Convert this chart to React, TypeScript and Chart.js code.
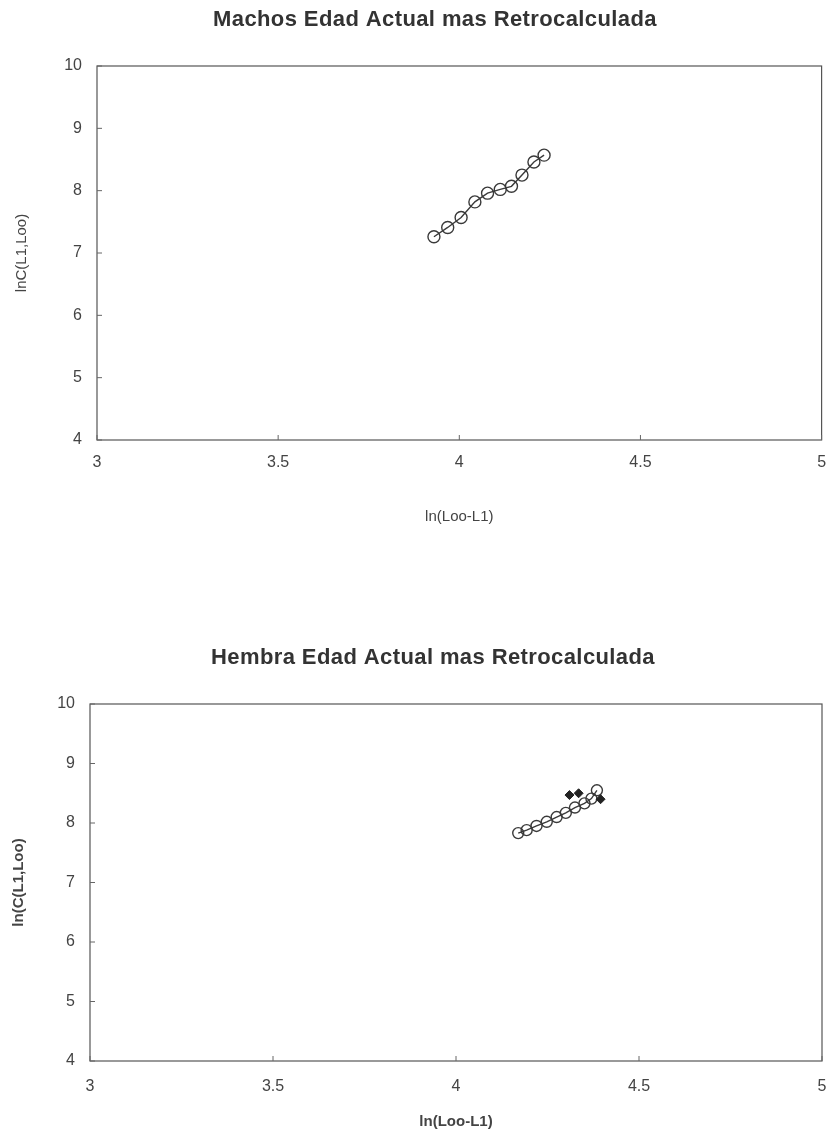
import React, { useEffect, useRef } from "react";
import { Chart, registerables } from "chart.js";

Chart.register(...registerables);

// ---- Data ----
const machosTitle = "Machos Edad Actual mas Retrocalculada";
const machosX = [3.93, 3.968, 4.005, 4.043, 4.078, 4.113, 4.144, 4.173, 4.206, 4.234];
const machosY = [7.26, 7.41, 7.57, 7.82, 7.96, 8.02, 8.07, 8.25, 8.46, 8.57];

const hembraTitle = "Hembra Edad Actual mas Retrocalculada";
const hembraX = [4.17, 4.193, 4.22, 4.248, 4.275, 4.3, 4.325, 4.351, 4.37, 4.385];
const hembraY = [7.83, 7.88, 7.95, 8.02, 8.1, 8.17, 8.26, 8.33, 8.41, 8.55];
const hembraObsX = [4.31, 4.335, 4.395];
const hembraObsY = [8.47, 8.5, 8.4];

const xTicks = [3, 3.5, 4, 4.5, 5];
const yTicks = [4, 5, 6, 7, 8, 9, 10];

const FONT = "'Liberation Sans', Arial, sans-serif";

const borderPlugin = {
  id: "plotBorder",
  afterDraw(chart: any) {
    const { ctx, chartArea } = chart;
    ctx.save();
    ctx.strokeStyle = "#555";
    ctx.lineWidth = 1.2;
    ctx.strokeRect(chartArea.left, chartArea.top, chartArea.right - chartArea.left, chartArea.bottom - chartArea.top);
    const xs = chart.scales.x;
    const ys = chart.scales.y;
    ctx.strokeStyle = "#666";
    ctx.lineWidth = 1;
    xTicks.forEach((v) => {
      const px = xs.getPixelForValue(v);
      ctx.beginPath();
      ctx.moveTo(px, chartArea.bottom);
      ctx.lineTo(px, chartArea.bottom - 5);
      ctx.stroke();
    });
    yTicks.forEach((v) => {
      const py = ys.getPixelForValue(v);
      ctx.beginPath();
      ctx.moveTo(chartArea.left, py);
      ctx.lineTo(chartArea.left + 5, py);
      ctx.stroke();
    });
    ctx.restore();
  },
};

// Title drawn at a fixed position (the original title is off-centre)
const titlePlugin = {
  id: "fixedTitle",
  afterDraw(chart: any, _args: any, opts: any) {
    const { ctx } = chart;
    ctx.save();
    ctx.font = `bold 22px ${FONT}`;
    try {
      (ctx as any).letterSpacing = "0.4px";
    } catch (e) {}
    ctx.fillStyle = "#333";
    ctx.textAlign = "center";
    ctx.textBaseline = "middle";
    ctx.fillText(opts.text, opts.x, opts.y);
    ctx.restore();
  },
};

type Cfg = {
  width: number;
  height: number;
  title: string;
  titleX: number;
  titleY: number;
  plotTop: number;
  yAxisWidth: number;
  xAxisHeight: number;
  padRight: number;
  xTitleBottom: number;
  xTickPad: number;
  yTitlePad: number;
  yTitle: string;
  xTitle: string;
  boldAxisTitles: boolean;
  datasets: any[];
};

function ScatterChart({ cfg, top }: { cfg: Cfg; top: number }) {
  const ref = useRef<HTMLCanvasElement | null>(null);
  useEffect(() => {
    if (!ref.current) return;
    const chart = new Chart(ref.current, {
      type: "scatter",
      data: { datasets: cfg.datasets },
      options: {
        responsive: false,
        animation: false,
        devicePixelRatio: 1,
        layout: { padding: { left: 0, right: cfg.padRight, top: cfg.plotTop, bottom: 0 } },
        plugins: {
          legend: { display: false },
          tooltip: { enabled: false },
          title: { display: false },
          fixedTitle: { text: cfg.title, x: cfg.titleX, y: cfg.titleY },
        },
        scales: {
          x: {
            type: "linear",
            min: 3,
            max: 5,
            afterBuildTicks: (s: any) => {
              s.ticks = xTicks.map((v) => ({ value: v }));
            },
            afterFit: (s: any) => {
              s.height = cfg.xAxisHeight;
              s.paddingLeft = 0;
              s.paddingRight = 0;
            },
            grid: { display: false },
            border: { display: false },
            ticks: {
              color: "#444",
              font: { family: FONT, size: 16 },
              padding: cfg.xTickPad,
              maxRotation: 0,
              callback: (v: any) => String(v),
            },
            title: {
              display: true,
              text: cfg.xTitle,
              color: "#444",
              font: { family: FONT, size: 15, weight: cfg.boldAxisTitles ? "bold" : "normal" },
              padding: { top: 0, bottom: cfg.xTitleBottom },
            },
          },
          y: {
            type: "linear",
            min: 4,
            max: 10,
            afterBuildTicks: (s: any) => {
              s.ticks = yTicks.map((v) => ({ value: v }));
            },
            afterFit: (s: any) => {
              s.width = cfg.yAxisWidth;
              s.paddingTop = 0;
              s.paddingBottom = 0;
            },
            grid: { display: false },
            border: { display: false },
            ticks: {
              color: "#444",
              font: { family: FONT, size: 16 },
              padding: 7,
            },
            title: {
              display: true,
              text: cfg.yTitle,
              color: "#444",
              font: { family: FONT, size: 15, weight: cfg.boldAxisTitles ? "bold" : "normal" },
              padding: { top: cfg.yTitlePad, bottom: 0 },
            },
          },
        },
      },
      plugins: [borderPlugin, titlePlugin],
    } as any);
    return () => chart.destroy();
  }, []);
  return (
    <div style={{ position: "absolute", left: 0, top, width: cfg.width, height: cfg.height }}>
      <canvas ref={ref} width={cfg.width} height={cfg.height} />
    </div>
  );
}

const circleStyle = {
  pointStyle: "circle",
  pointRadius: 6,
  pointBackgroundColor: "rgba(255,255,255,0)",
  pointBorderColor: "#3a3a3a",
  pointBorderWidth: 1.4,
  showLine: true,
  borderColor: "#3a3a3a",
  borderWidth: 1.4,
};

export default function App() {
  useEffect(() => {
    document.body.style.margin = "0";
    document.body.style.background = "#fff";
  }, []);

  const top: Cfg = {
    width: 829,
    height: 540,
    title: machosTitle,
    titleX: 435,
    titleY: 20,
    plotTop: 66,
    yAxisWidth: 97,
    xAxisHeight: 100,
    padRight: 4,
    xTitleBottom: 14,
    xTickPad: 5,
    yTitlePad: 13,
    yTitle: "lnC(L1,Loo)",
    xTitle: "ln(Loo-L1)",
    boldAxisTitles: false,
    datasets: [
      {
        data: machosX.map((x, i) => ({ x, y: machosY[i] })),
        ...circleStyle,
      },
    ],
  };

  const bottom: Cfg = {
    width: 829,
    height: 578,
    title: hembraTitle,
    titleX: 433,
    titleY: 98,
    plotTop: 144,
    yAxisWidth: 90,
    xAxisHeight: 77,
    padRight: 7,
    xTitleBottom: 7,
    xTickPad: 8,
    yTitlePad: 10,
    yTitle: "ln(C(L1,Loo)",
    xTitle: "ln(Loo-L1)",
    boldAxisTitles: true,
    datasets: [
      {
        data: hembraObsX.map((x, i) => ({ x, y: hembraObsY[i] })),
        pointStyle: "rectRot",
        pointRadius: 4.5,
        pointBackgroundColor: "#222",
        pointBorderColor: "#222",
        showLine: false,
      },
      {
        data: hembraX.map((x, i) => ({ x, y: hembraY[i] })),
        ...circleStyle,
        pointRadius: 5.5,
      },
    ],
  };

  return (
    <div style={{ position: "relative", width: 829, height: 1138, fontFamily: FONT }}>
      <ScatterChart cfg={top} top={0} />
      <ScatterChart cfg={bottom} top={560} />
    </div>
  );
}
